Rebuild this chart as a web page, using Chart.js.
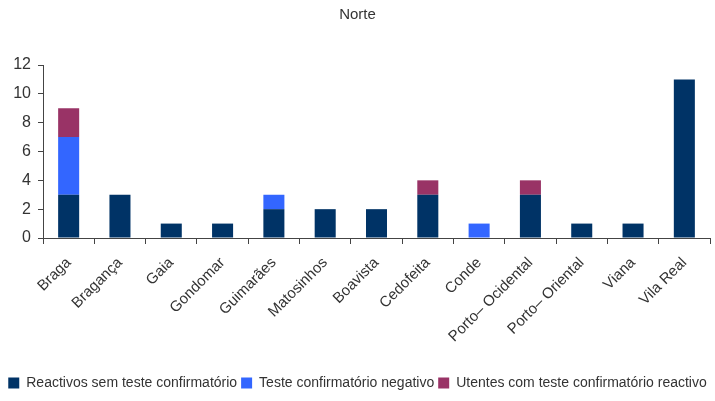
<!DOCTYPE html>
<html>
<head>
<meta charset="utf-8">
<script src="https://cdn.jsdelivr.net/npm/chart.js@4/dist/chart.umd.min.js"></script>
<style>
  html, body { margin: 0; padding: 0; background: #fff; }
  #wrap { width: 715px; height: 401px; }
</style>
</head>
<body>
<div id="wrap"><canvas id="c" width="715" height="401"></canvas></div>
<script>
const categories = ['Braga', 'Bragança', 'Gaia', 'Gondomar', 'Guimarães', 'Matosinhos', 'Boavista', 'Cedofeita', 'Conde', 'Porto– Ocidental', 'Porto– Oriental', 'Viana', 'Vila Real'];
const reactivosSemTeste = [3, 3, 1, 1, 2, 2, 2, 3, 0, 3, 1, 1, 11];
const testeNegativo = [4, 0, 0, 0, 1, 0, 0, 0, 1, 0, 0, 0, 0];
const testeReactivo = [2, 0, 0, 0, 0, 0, 0, 1, 0, 1, 0, 0, 0];
const yTicks = [0, 2, 4, 6, 8, 10, 12];

const FONT = "'Liberation Sans', Arial, sans-serif";
const TEXT = '#333333';
const AXIS = '#444444';

new Chart(document.getElementById('c'), {
  type: 'bar',
  data: {
    labels: categories,
    datasets: [
      { label: 'Reactivos sem teste confirmatório', data: reactivosSemTeste, backgroundColor: '#003366' },
      { label: 'Teste confirmatório negativo', data: testeNegativo, backgroundColor: '#3366FF' },
      { label: 'Utentes com teste confirmatório reactivo', data: testeReactivo, backgroundColor: '#993366' }
    ]
  },
  options: {
    responsive: false,
    animation: false,
    devicePixelRatio: 1,
    layout: { padding: { left: 0, right: 0, top: 0, bottom: 1 } },
    datasets: { bar: { barPercentage: 0.41, categoryPercentage: 1.0 } },
    plugins: {
      title: {
        display: true, text: 'Norte', color: TEXT,
        font: { family: FONT, size: 15, weight: 'normal' },
        padding: { top: 6, bottom: 41 }
      },
      legend: {
        position: 'bottom',
        labels: {
          color: TEXT, boxWidth: 11, boxHeight: 11, padding: 4,
          font: { family: FONT, size: 14 }
        }
      },
      tooltip: { enabled: false }
    },
    scales: {
      x: {
        stacked: true,
        border: { color: AXIS, width: 1 },
        grid: { offset: true, drawOnChartArea: false, drawTicks: true, tickLength: 6, color: AXIS },
        ticks: { color: TEXT, font: { family: FONT, size: 15 }, minRotation: 45, maxRotation: 45, padding: 10, autoSkip: false },
        afterFit: (s) => { s.height = 134; }
      },
      y: {
        stacked: true,
        min: 0, max: 12,
        afterBuildTicks: (axis) => { axis.ticks = yTicks.map(v => ({ value: v })); },
        border: { color: AXIS, width: 1 },
        grid: { drawOnChartArea: false, drawTicks: true, tickLength: 5, color: AXIS },
        ticks: { color: TEXT, font: { family: FONT, size: 16 }, padding: 7 },
        afterFit: (s) => { s.width = 43; }
      },
      // right-hand margin so the category axis stops short of the edge
      margin: {
        position: 'right', display: true,
        grid: { display: false }, border: { display: false },
        ticks: { display: false },
        afterFit: (s) => { s.width = 5; }
      }
    }
  }
});
</script>
</body>
</html>
